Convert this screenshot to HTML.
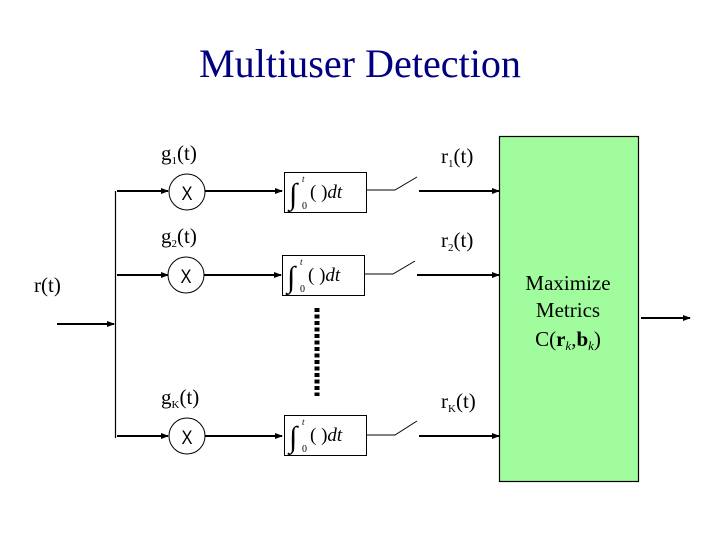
<!DOCTYPE html>
<html><head><meta charset="utf-8"><style>
html,body{margin:0;padding:0;background:#fff;}
svg{display:block;}
</style></head><body>
<svg width="720" height="540" viewBox="0 0 720 540" xmlns="http://www.w3.org/2000/svg" style="font-family:'Liberation Serif',serif">
<defs>
<marker id="a" markerWidth="8" markerHeight="8" refX="7" refY="4" orient="auto" markerUnits="userSpaceOnUse">
<path d="M0,1 L8,4 L0,7 Z" fill="#000"/>
</marker>
</defs>
<text x="360" y="77" text-anchor="middle" font-size="40" fill="#000080" textLength="322" lengthAdjust="spacingAndGlyphs" style="font-family:'Liberation Serif',serif">Multiuser Detection</text>

<rect x="499.5" y="136.5" width="139" height="345" fill="#a0fc9c" stroke="#000" stroke-width="1.2"/>
<text x="568" y="290" text-anchor="middle" font-size="21" style="font-family:'Liberation Serif',serif">Maximize</text>
<text x="568" y="317" text-anchor="middle" font-size="21" style="font-family:'Liberation Serif',serif">Metrics</text>
<text x="568" y="346" text-anchor="middle" font-size="21" style="font-family:'Liberation Serif',serif">C(<tspan font-weight="bold">r</tspan><tspan font-size="13" dy="4" font-style="italic">k</tspan><tspan dy="-4">,</tspan><tspan font-weight="bold">b</tspan><tspan font-size="13" dy="4" font-style="italic">k</tspan><tspan dy="-4">)</tspan></text>

<line x1="641" y1="318" x2="690" y2="318" stroke="#000" stroke-width="2" marker-end="url(#a)"/>

<text x="34" y="292" font-size="21" style="font-family:'Liberation Serif',serif">r(t)</text>
<line x1="57" y1="324" x2="114" y2="324" stroke="#000" stroke-width="2" marker-end="url(#a)"/>
<line x1="115.5" y1="191" x2="115.5" y2="438" stroke="#000" stroke-width="1.2"/>

<!-- row 1 -->
<text x="161" y="160" font-size="21" style="font-family:'Liberation Serif',serif">g<tspan font-size="11" dy="4">1</tspan><tspan dy="-4">(t)</tspan></text>
<text x="441" y="163" font-size="21" style="font-family:'Liberation Serif',serif">r<tspan font-size="11" dy="4">1</tspan><tspan dy="-4">(t)</tspan></text>
<line x1="117" y1="191" x2="168" y2="191" stroke="#000" stroke-width="2" marker-end="url(#a)"/>
<circle cx="187" cy="192" r="18" fill="#fff" stroke="#000" stroke-width="1"/>
<text x="187" y="200" text-anchor="middle" font-size="19" style="font-family:'Liberation Sans',sans-serif" textLength="11" lengthAdjust="spacingAndGlyphs">X</text>
<line x1="205" y1="191" x2="282" y2="191" stroke="#000" stroke-width="2" marker-end="url(#a)"/>
<rect x="284.5" y="172.5" width="82" height="40" fill="#fff" stroke="#000" stroke-width="1"/>
<text x="289" y="204" font-size="30" style="font-family:'Liberation Serif',serif">∫</text><text x="302" y="182" font-size="9" font-style="italic" style="font-family:'Liberation Serif',serif">t</text><text x="302" y="209" font-size="10" style="font-family:'Liberation Serif',serif">0</text><text x="310" y="198" font-size="19" style="font-family:'Liberation Serif',serif">( )<tspan font-style="italic">dt</tspan></text>
<polyline points="366,190 395,190 417,177" fill="none" stroke="#000" stroke-width="1"/>
<line x1="419" y1="191" x2="499" y2="191" stroke="#000" stroke-width="2" marker-end="url(#a)"/>

<!-- row 2 -->
<text x="161" y="243" font-size="21" style="font-family:'Liberation Serif',serif">g<tspan font-size="11" dy="4">2</tspan><tspan dy="-4">(t)</tspan></text>
<text x="441" y="247" font-size="21" style="font-family:'Liberation Serif',serif">r<tspan font-size="11" dy="4">2</tspan><tspan dy="-4">(t)</tspan></text>
<line x1="117" y1="275" x2="168" y2="275" stroke="#000" stroke-width="2" marker-end="url(#a)"/>
<circle cx="186" cy="275" r="18" fill="#fff" stroke="#000" stroke-width="1"/>
<text x="186" y="283" text-anchor="middle" font-size="19" style="font-family:'Liberation Sans',sans-serif" textLength="11" lengthAdjust="spacingAndGlyphs">X</text>
<line x1="204" y1="275" x2="281" y2="275" stroke="#000" stroke-width="2" marker-end="url(#a)"/>
<rect x="282.5" y="255.5" width="82" height="40" fill="#fff" stroke="#000" stroke-width="1"/>
<text x="287" y="287" font-size="30" style="font-family:'Liberation Serif',serif">∫</text><text x="300" y="265" font-size="9" font-style="italic" style="font-family:'Liberation Serif',serif">t</text><text x="300" y="292" font-size="10" style="font-family:'Liberation Serif',serif">0</text><text x="308" y="281" font-size="19" style="font-family:'Liberation Serif',serif">( )<tspan font-style="italic">dt</tspan></text>
<polyline points="365,274 393,274 415,261" fill="none" stroke="#000" stroke-width="1"/>
<line x1="417" y1="275" x2="499" y2="275" stroke="#000" stroke-width="2" marker-end="url(#a)"/>

<!-- dots -->
<line x1="317" y1="308" x2="317" y2="396" stroke="#000" stroke-width="5" stroke-dasharray="4,2.5"/>

<!-- row K -->
<text x="161" y="404" font-size="21" style="font-family:'Liberation Serif',serif">g<tspan font-size="11" dy="4">K</tspan><tspan dy="-4">(t)</tspan></text>
<text x="441" y="408" font-size="21" style="font-family:'Liberation Serif',serif">r<tspan font-size="11" dy="4">K</tspan><tspan dy="-4">(t)</tspan></text>
<line x1="117" y1="436" x2="168" y2="436" stroke="#000" stroke-width="2" marker-end="url(#a)"/>
<circle cx="187" cy="436" r="18" fill="#fff" stroke="#000" stroke-width="1"/>
<text x="187" y="444" text-anchor="middle" font-size="19" style="font-family:'Liberation Sans',sans-serif" textLength="11" lengthAdjust="spacingAndGlyphs">X</text>
<line x1="205" y1="436" x2="282" y2="436" stroke="#000" stroke-width="2" marker-end="url(#a)"/>
<rect x="284.5" y="415.5" width="82" height="40" fill="#fff" stroke="#000" stroke-width="1"/>
<text x="289" y="447" font-size="30" style="font-family:'Liberation Serif',serif">∫</text><text x="302" y="425" font-size="9" font-style="italic" style="font-family:'Liberation Serif',serif">t</text><text x="302" y="452" font-size="10" style="font-family:'Liberation Serif',serif">0</text><text x="310" y="441" font-size="19" style="font-family:'Liberation Serif',serif">( )<tspan font-style="italic">dt</tspan></text>
<polyline points="366,435 395,435 417,421" fill="none" stroke="#000" stroke-width="1"/>
<line x1="419" y1="436" x2="499" y2="436" stroke="#000" stroke-width="2" marker-end="url(#a)"/>
</svg>
</body></html>
